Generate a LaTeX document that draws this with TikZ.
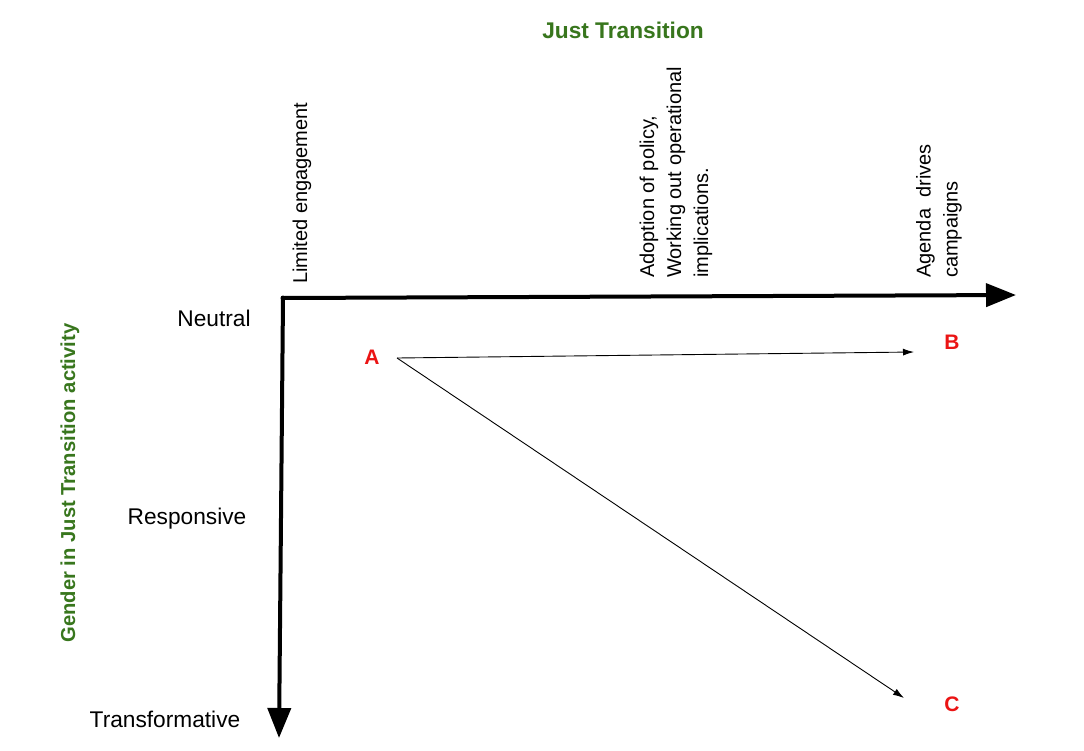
\documentclass[tikz,border=0pt]{standalone}
\usepackage{fontspec}
\setmainfont{Liberation Sans}
\usetikzlibrary{arrows.meta}
\definecolor{jtgreen}{RGB}{56,118,29}
\definecolor{jtred}{RGB}{235,20,20}
\tikzset{
  axis/.style={line width=4pt,-{Triangle[length=30pt,width=23pt]}},
  move/.style={line width=0.9pt,-{Latex[length=11pt,width=7pt]}},
  level/.style={font=\fontsize{22.7}{27}\selectfont},
  stage/.style={font=\fontsize{20}{27}\selectfont,rotate=90,anchor=west,align=left,inner sep=0pt},
  heading/.style={font=\fontsize{22.7}{27}\selectfont\bfseries,text=jtgreen},
  point/.style={font=\fontsize{21}{26}\selectfont\bfseries,text=jtred}
}
\begin{document}
\begin{tikzpicture}[x=1pt,y=-1pt]
    \useasboundingbox[fill=white] (0,0) rectangle (1084,750);

    \coordinate (O) at (283,298);
    \coordinate (X) at (1016,295);
    \coordinate (Y) at (279,738);

    % Ejes
    \draw[axis] (O) -- (X);
    \draw[axis] (O) -- (Y);
    \fill (O) circle (2.5);

    % Titulos
    \node[heading] (jt) at (623,30) {Just Transition};
    \node[heading,rotate=90,font=\fontsize{20.2}{26}\selectfont\bfseries] (gender) at (70,483) {Gender in Just Transition activity};

    % Etapas
    \node[stage] (limited) at (302,284) {Limited engagement};
    \node[stage] (adoption) at (676,278) {Adoption of policy,\\Working out operational\\implications.};
    \node[stage] (agenda) at (939,278) {Agenda~~drives\\campaigns};

    % Niveles
    \node[level] (neutral) at (214,318) {Neutral};
    \node[level] (responsive) at (187,519) {Responsive};
    \node[level] (transformative) at (165,719) {Transformative};

    % Puntos
    \node[point] (A) at (372,357) {A};
    \node[point] (B) at (952,342) {B};
    \node[point] (C) at (952,704) {C};

    \coordinate (A-out) at (397,358);
    \coordinate (B-in) at (914,352);
    \coordinate (C-in) at (904,698);
    \draw[move] (A-out) -- (B-in);
    \draw[move] (A-out) -- (C-in);
\end{tikzpicture}
\end{document}
